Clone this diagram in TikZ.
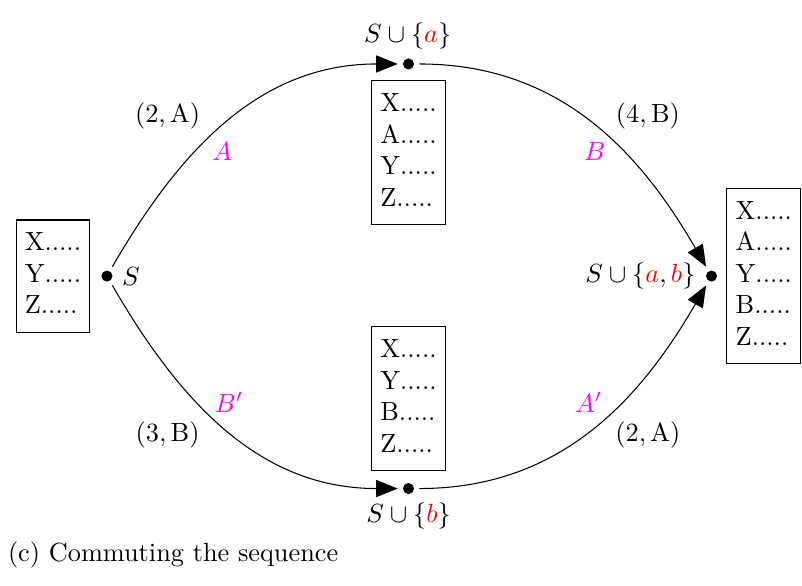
\documentclass[tikz,border=0pt]{standalone}
\usetikzlibrary{arrows.meta}
\usepackage{xcolor}
\definecolor{move-magenta}{RGB}{255,0,255}
\definecolor{elem-red}{RGB}{255,0,0}

\begin{document}
\begin{tikzpicture}[
    every node/.style={font=\normalsize},
    dot/.style={circle, fill=black, inner sep=0pt, minimum size=4.2pt, outer sep=2pt},
    seqbox/.style={draw, inner sep=3.33pt},
    move/.style={text=move-magenta},
    trans/.style={-{Triangle[length=8.2pt, width=6.5pt]}},
  ]
  \useasboundingbox (0,0) rectangle (10.72,-7.82);
  % states
  \node[dot] (s) at (1.43,-3.69) {};
  \node[dot] (sa) at (5.46,-0.855) {};
  \node[dot] (sb) at (5.46,-6.53) {};
  \node[dot] (sab) at (9.51,-3.69) {};
  \node (sLbl) at (1.75,-3.70) {$S$};
  \node (saLbl) at (5.45,-0.48) {$S \cup \{\textcolor{elem-red}{a}\}$};
  \node (sbLbl) at (5.46,-6.89) {$S \cup \{\textcolor{elem-red}{b}\}$};
  \node (sabLbl) at (8.56,-3.69) {$S \cup \{\textcolor{elem-red}{a}, \textcolor{elem-red}{b}\}$};
  % sequences
  \node[seqbox] (seqS) at (0.708,-3.69) {\begin{tabular}{@{}l@{}}X.....\\Y.....\\Z.....\end{tabular}};
  \node[seqbox] (seqSa) at (5.46,-2.04) {\begin{tabular}{@{}l@{}}X.....\\A.....\\Y.....\\Z.....\end{tabular}};
  \node[seqbox] (seqSb) at (5.46,-5.33) {\begin{tabular}{@{}l@{}}X.....\\Y.....\\B.....\\Z.....\end{tabular}};
  \node[seqbox] (seqSab) at (10.21,-3.69) {\begin{tabular}{@{}l@{}}X.....\\A.....\\Y.....\\B.....\\Z.....\end{tabular}};
  % transitions
  \draw[trans] (s) to[out=60, in=180] (sa);
  \draw[trans] (sa) to[out=0, in=120] (sab);
  \draw[trans] (s) to[out=-60, in=180] (sb);
  \draw[trans] (sb) to[out=0, in=-120] (sab);
  \node (costA) at (2.24,-1.55) {$(2, \mathrm{A})$};
  \node[move] (mvA) at (2.97,-2.03) {$A$};
  \node (costB) at (8.66,-1.55) {$(4, \mathrm{B})$};
  \node[move] (mvB) at (7.95,-2.03) {$B$};
  \node (costBp) at (2.24,-5.81) {$(3, \mathrm{B})$};
  \node[move] (mvBp) at (3.06,-5.38) {$B'$};
  \node[move] (mvAp) at (7.87,-5.38) {$A'$};
  \node (costAp) at (8.66,-5.81) {$(2, \mathrm{A})$};
  \node[anchor=base west, inner sep=0pt] (caption) at (0.1,-7.50) {(c) Commuting the sequence};
\end{tikzpicture}
\end{document}
